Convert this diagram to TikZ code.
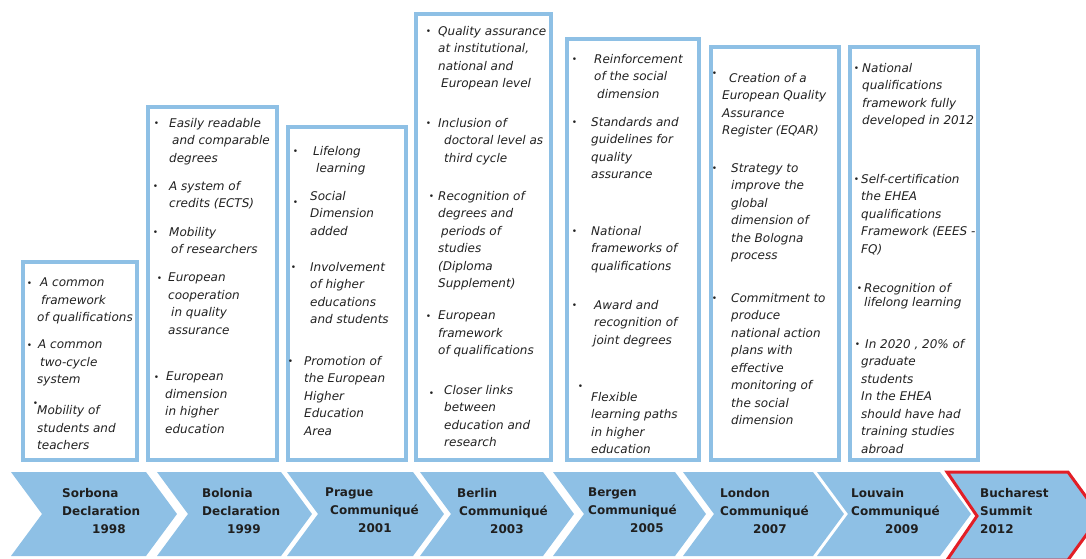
\documentclass[tikz,border=0pt]{standalone}
\usepackage{fontspec}
\setmainfont{DejaVu Sans}
\usepackage{xcolor}

\definecolor{chevblue}{RGB}{142,192,229}
\definecolor{summitred}{RGB}{226,30,38}
\definecolor{inkgray}{RGB}{34,34,34}
\newcommand{\itembul}[2][0.5]{\llap{\raisebox{#1pt}{\fontsize{9}{9}\selectfont\textbullet}\hspace{#2pt}}}

\begin{document}
\begin{tikzpicture}[
    x=1pt, y=-1pt,
    panel/.style={draw=chevblue, line width=3.5pt, fill=white},
    chev/.style={fill=chevblue},
    itm/.style={anchor=north west, align=left, inner sep=0pt, text=inkgray,
        font=\fontsize{12}{17.5}\selectfont\itshape},
    stage/.style={anchor=north west, align=left, inner sep=0pt, text=black!88,
        font=\fontsize{12}{18}\selectfont\bfseries}
]
    \useasboundingbox (0,0) rectangle (1086,558);

    % Boxes
    \draw[panel] (23,262) rectangle (137,460);
    \draw[panel] (148,107) rectangle (277,460);
    \draw[panel] (288,127) rectangle (406,460);
    \draw[panel] (416,14) rectangle (551,460);
    \draw[panel] (567,39) rectangle (699,460);
    \draw[panel] (711,47) rectangle (839,460);
    \draw[panel] (850,47) rectangle (978,460);

    % Chevrons
    \foreach \a/\b in {11/146,157/281,287/413,420/543,553/675,683/813,817/940}
        \fill[chev] (\a,472) -- (\b,472) -- (\b+31,514) -- (\b,556)
            -- (\a,556) -- (\a+31,514) -- cycle;
    \filldraw[chev, draw=summitred, line width=3pt, line join=miter]
        (947,472) -- (1068,472) -- (1100,516) -- (1068,560)
        -- (947,560) -- (977,516) -- cycle;

    % Stages
    \node[stage] (sorbona) at (62,488) {Sorbona\\Declaration\\\hspace*{30pt}1998};
    \node[stage] (bolonia) at (202,488) {Bolonia\\Declaration\\\hspace*{25pt}1999};
    \node[stage] (prague) at (325,488) {Prague\\\hspace*{5pt}Communiqué\\\hspace*{33pt}2001};
    \node[stage] (berlin) at (457,488) {Berlin\\\hspace*{2pt}Communiqué\\\hspace*{33pt}2003};
    \node[stage] (bergen) at (588,488) {Bergen\\Communiqué\\\hspace*{42pt}2005};
    \node[stage] (london) at (720,488) {London\\Communiqué\\\hspace*{33pt}2007};
    \node[stage] (louvain) at (851,488) {Louvain\\Communiqué\\\hspace*{34pt}2009};
    \node[stage] (bucharest) at (980,488) {Bucharest\\Summit\\2012};

    % Sorbona items
    \node[itm] (sor_a) at (37,278) {\hspace*{3pt}\itembul{8}A common\\\hspace*{4pt}framework\\of qualifications};
    \node[itm] (sor_b) at (37,340) {\hspace*{1pt}\itembul{6}A common\\\hspace*{3pt}two-cycle\\system};
    \node[itm] (sor_c) at (37,402) {\itembul[8]{-1}Mobility of\\students and\\teachers};

    % Bolonia items
    \node[itm] (bol_a) at (169,118) {\itembul{10}Easily readable\\\hspace*{3pt}and comparable\\degrees};
    \node[itm] (bol_b) at (169,181) {\itembul{11}A system of\\credits (ECTS)};
    \node[itm] (bol_c) at (169,227) {\itembul{11}Mobility\\\hspace*{2pt}of researchers};
    \node[itm] (bol_d) at (168,273) {\itembul{6}European\\cooperation\\\hspace*{3pt}in quality\\assurance};
    \node[itm] (bol_e) at (165,372) {\hspace*{1pt}\itembul{7}European\\dimension\\in higher\\education};

    % Prague items
    \node[itm] (pra_a) at (313,146) {\itembul{15}Lifelong\\\hspace*{3pt}learning};
    \node[itm] (pra_b) at (310,191) {\itembul[-5.5]{12}Social\\Dimension\\added};
    \node[itm] (pra_c) at (310,262) {\itembul{14}Involvement\\of higher\\educations\\and students};
    \node[itm] (pra_d) at (304,356) {\itembul{11}Promotion of\\the European\\Higher\\Education\\Area};

    % Berlin items
    \node[itm] (ber_a) at (438,26) {\itembul{7}Quality assurance\\at institutional,\\national and\\\hspace*{3pt}European level};
    \node[itm] (ber_b) at (438,118) {\itembul{7}Inclusion of\\\hspace*{6pt}doctoral level as\\\hspace*{6pt}third cycle};
    \node[itm] (ber_c) at (438,191) {\itembul{4}Recognition of\\degrees and\\\hspace*{3pt}periods of\\studies\\(Diploma\\Supplement)};
    \node[itm] (ber_d) at (438,311) {\itembul{7}European\\framework\\of qualifications};
    \node[itm] (ber_e) at (444,385) {\itembul[-2.5]{10}Closer links\\between\\education and\\research};

    % Bergen items
    \node[itm] (brg_a) at (594,54) {\itembul{17}Reinforcement\\of the social\\\hspace*{3pt}dimension};
    \node[itm] (brg_b) at (591,117) {\itembul{14}Standards and\\guidelines for\\quality\\assurance};
    \node[itm] (brg_c) at (591,226) {\itembul{14}National\\frameworks of\\qualifications};
    \node[itm] (brg_d) at (593,300) {\hspace*{1pt}\itembul{17}Award and\\\hspace*{1pt}recognition of\\joint degrees};
    \node[itm] (brg_e) at (591,385) {\itembul[11.5]{8}Flexible\\learning paths\\in higher\\education};

    % London items
    \node[itm] (lon_a) at (722,72) {\hspace*{7pt}\itembul[5.5]{12}Creation of a\\European Quality\\Assurance\\Register (EQAR)};
    \node[itm] (lon_b) at (731,163) {\itembul{14}Strategy to\\improve the\\global\\dimension of\\the Bologna\\process};
    \node[itm] (lon_c) at (731,293) {\itembul{14}Commitment to\\produce\\national action\\plans with\\effective\\monitoring of\\the social\\dimension};

    % Louvain items
    \node[itm] (lou_a) at (862,63) {\itembul{3}National\\qualifications\\framework fully\\developed in 2012};
    \node[itm] (lou_b) at (861,174) {\itembul{2}Self-certification\\the EHEA\\qualifications\\Framework (EEES -\\FQ)};
    \node[itm] (lou_c) at (864,283) {\itembul{2}Recognition of\\[-3.5pt]lifelong learning};
    \node[itm] (lou_d) at (861,339) {\hspace*{4pt}\itembul{5}In 2020 , 20\% of\\graduate\\students\\In the EHEA\\should have had\\training studies\\abroad};
\end{tikzpicture}
\end{document}
